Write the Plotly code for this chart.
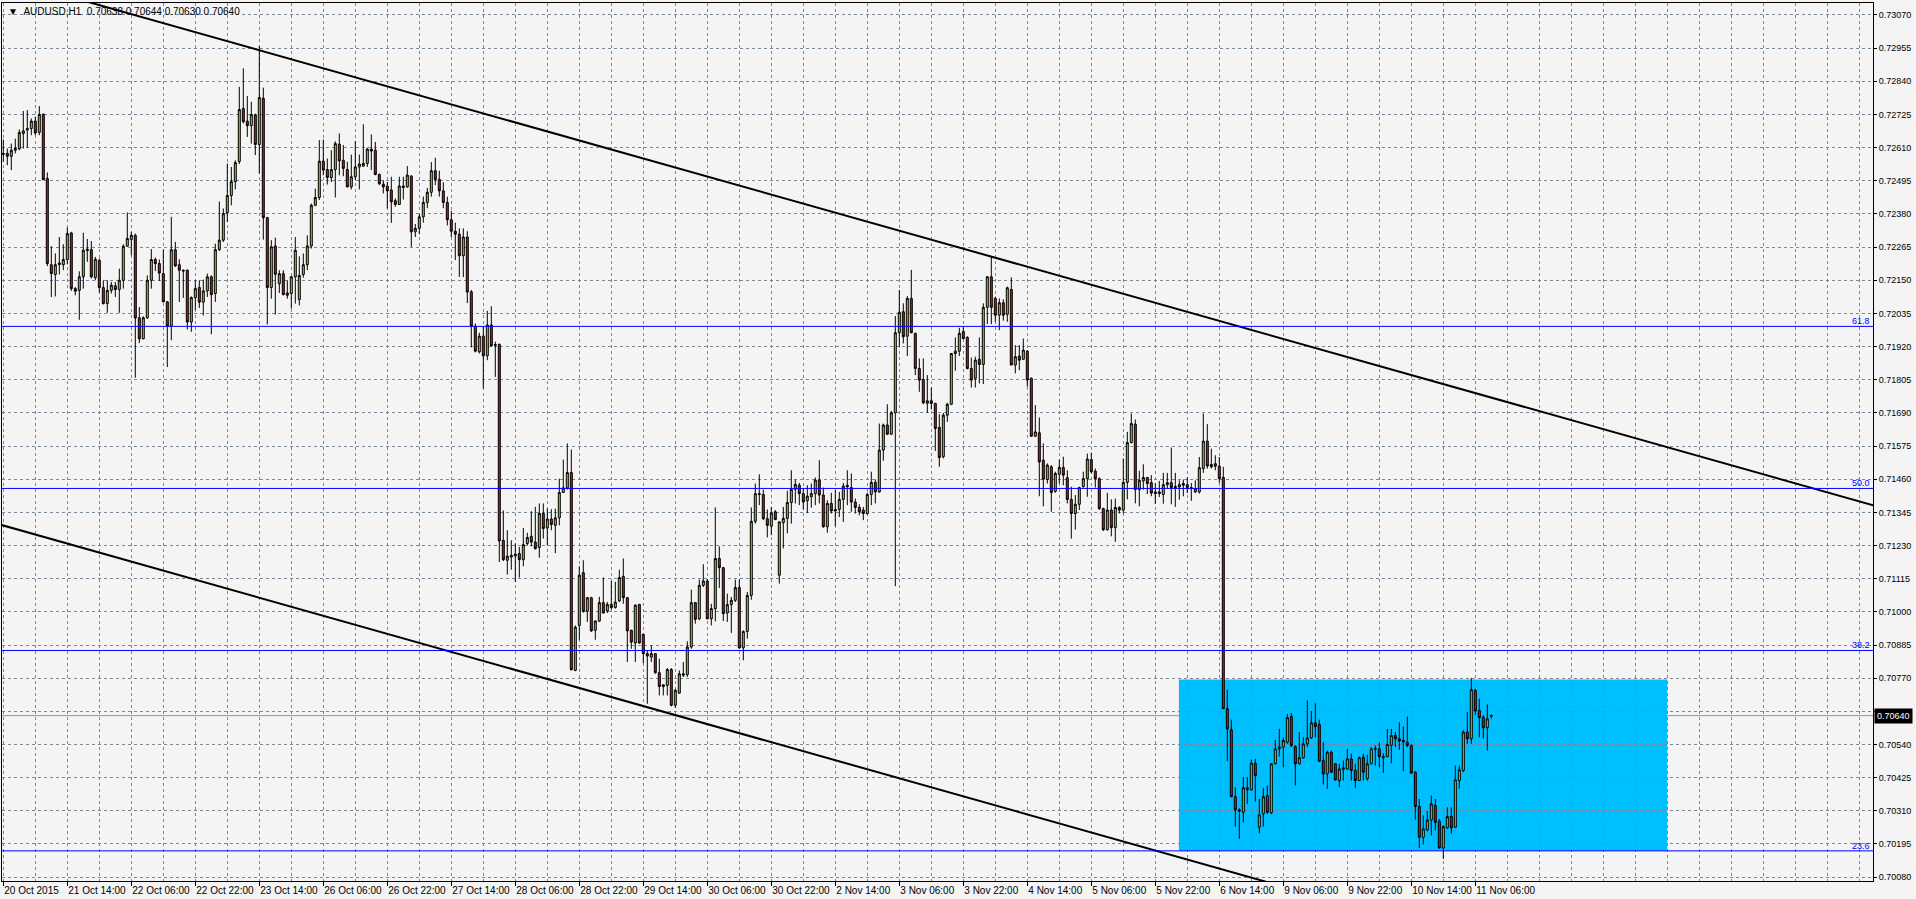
import plotly.graph_objects as go

# ---------------- data ----------------
tick_dates = ["20 Oct 2015", "21 Oct 14:00", "22 Oct 06:00", "22 Oct 22:00", "23 Oct 14:00",
              "26 Oct 06:00", "26 Oct 22:00", "27 Oct 14:00", "28 Oct 06:00", "28 Oct 22:00",
              "29 Oct 14:00", "30 Oct 06:00", "30 Oct 22:00", "2 Nov 14:00", "3 Nov 06:00",
              "3 Nov 22:00", "4 Nov 14:00", "5 Nov 06:00", "5 Nov 22:00", "6 Nov 14:00",
              "9 Nov 06:00", "9 Nov 22:00", "10 Nov 14:00", "11 Nov 06:00"]
tick_bars = [0, 16, 32, 48, 64, 80, 96, 112, 128, 144, 160, 176, 192, 208, 224, 240,
             256, 272, 288, 304, 320, 336, 352, 368]

price_ticks = [0.70080, 0.70195, 0.70310, 0.70425, 0.70540, 0.70655, 0.70770, 0.70885, 0.71000,
               0.71115, 0.71230, 0.71345, 0.71460, 0.71575, 0.71690, 0.71805, 0.71920, 0.72035,
               0.72150, 0.72265, 0.72380, 0.72495, 0.72610, 0.72725, 0.72840, 0.72955, 0.73070]
hidden_tick = 0.70655   # covered by the bid-price box in the original

opens = [
 .72590,.72590,.72580,.72601,.72606,.72659,.72671,.72676,.72702,.72663,
 .72726,.72503,.72204,.72170,.72204,.72204,.72222,.72314,.72121,.72115,
 .72162,.72253,.72256,.72159,.72219,.72125,.72069,.72115,.72131,.72118,
 .72150,.72268,.72291,.72306,.72020,.71947,.72020,.72150,.72222,.72208,
 .72173,.72075,.71991,.72256,.72204,.72185,.72185,.72005,.72090,.72125,
 .72074,.72113,.72162,.72104,.72256,.72289,.72384,.72444,.72492,.72562,
 .72746,.72702,.72686,.72723,.72621,.72781,.72367,.72125,.72269,.72138,
 .72173,.72106,.72104,.72162,.72083,.72170,.72204,.72269,.72410,.72437,
 .72563,.72534,.72506,.72534,.72622,.72566,.72534,.72474,.72509,.72543,
 .72546,.72555,.72605,.72601,.72517,.72483,.72476,.72463,.72426,.72413,
 .72477,.72474,.72511,.72318,.72330,.72370,.72420,.72455,.72530,.72500,
 .72460,.72420,.72360,.72320,.72310,.72235,.72300,.72110,.71991,.71902,
 .71956,.71888,.71995,.71927,.71927,.71248,.71179,.71190,.71194,.71202,
 .71181,.71237,.71262,.71242,.71223,.71341,.71291,.71322,.71300,.71326,
 .71414,.71430,.71483,.70797,.70953,.71136,.71002,.71049,.70936,.70968,
 .71032,.71003,.71026,.71015,.71038,.71123,.71049,.70936,.70892,.71026,
 .70922,.70855,.70843,.70855,.70789,.70747,.70745,.70800,.70676,.70718,
 .70780,.70782,.70878,.71032,.70976,.71092,.71107,.70976,.71011,.71185,
 .71153,.70996,.71025,.71040,.71084,.70875,.70932,.71057,.71314,.71410,
 .71407,.71323,.71297,.71347,.71127,.71309,.71324,.71379,.71425,.71439,
 .71410,.71385,.71399,.71410,.71457,.71405,.71295,.71376,.71355,.71355,
 .71390,.71439,.71431,.71381,.71362,.71353,.71341,.71407,.71449,.71416,
 .71561,.71648,.71616,.71690,.71968,.72041,.71956,.72087,.71966,.71844,
 .71806,.71723,.71732,.71723,.71640,.71538,.71682,.71720,.71896,.71904,
 .71972,.71952,.71844,.71810,.71876,.71858,.72056,.72162,.72087,.72029,
 .72072,.72032,.72118,.71856,.71887,.71876,.71904,.71810,.71609,.71621,
 .71526,.71459,.71503,.71418,.71477,.71501,.71465,.71390,.71341,.71373,
 .71434,.71462,.71528,.71488,.71462,.71358,.71285,.71353,.71292,.71362,
 .71353,.71449,.71587,.71651,.71424,.71454,.71466,.71448,.71416,.71410,
 .71407,.71441,.71448,.71435,.71433,.71445,.71441,.71431,.71416,.71416,
 .71497,.71592,.71511,.71514,.71505,.71466,.70664,.70591,.70359,.70313,
 .70305,.70390,.70383,.70475,.70253,.70299,.70363,.70303,.70473,.70525,
 .70531,.70548,.70637,.70533,.70473,.70494,.70542,.70563,.70615,.70609,
 .70484,.70438,.70513,.70473,.70415,.70454,.70455,.70490,.70450,.70415,
 .70496,.70421,.70473,.70526,.70525,.70498,.70498,.70537,.70571,.70560,
 .70554,.70548,.70537,.70444,.70325,.70218,.70244,.70278,.70328,.70274,
 .70181,.70251,.70290,.70253,.70415,.70450,.70583,.70560,.70728,.70658,
 .70635,.70598,.70638]

highs = [
 .72638,.72607,.72624,.72641,.72673,.72737,.72740,.72711,.72717,.72754,
 .72728,.72524,.72268,.72243,.72300,.72275,.72333,.72318,.72127,.72181,
 .72315,.72293,.72286,.72231,.72225,.72150,.72150,.72144,.72144,.72190,
 .72275,.72385,.72318,.72312,.72057,.72025,.72167,.72258,.72229,.72222,
 .72256,.72078,.72370,.72283,.72223,.72187,.72187,.72094,.72150,.72150,
 .72152,.72173,.72167,.72277,.72423,.72399,.72555,.72543,.72566,.72821,
 .72885,.72789,.72769,.72728,.72962,.72818,.72370,.72289,.72298,.72185,
 .72185,.72150,.72165,.72300,.72233,.72243,.72306,.72416,.72468,.72636,
 .72638,.72572,.72601,.72632,.72659,.72619,.72561,.72586,.72632,.72586,
 .72691,.72610,.72656,.72630,.72520,.72497,.72491,.72509,.72434,.72509,
 .72509,.72546,.72515,.72345,.72380,.72440,.72470,.72560,.72575,.72530,
 .72490,.72440,.72390,.72350,.72330,.72330,.72320,.72116,.72000,.71968,
 .71991,.72044,.72060,.71937,.71931,.71352,.71283,.71248,.71237,.71225,
 .71291,.71274,.71349,.71364,.71376,.71376,.71358,.71356,.71358,.71462,
 .71528,.71584,.71563,.70953,.71158,.71179,.71052,.71052,.70971,.71052,
 .71119,.71034,.71107,.71104,.71146,.71185,.71052,.70938,.71026,.71026,
 .70924,.70866,.70884,.70855,.70838,.70747,.70805,.70805,.70733,.70797,
 .70826,.70898,.71077,.71034,.71112,.71165,.71114,.71028,.71362,.71227,
 .71156,.71063,.71052,.71112,.71112,.70936,.71069,.71362,.71445,.71477,
 .71424,.71355,.71364,.71353,.71314,.71364,.71420,.71491,.71459,.71447,
 .71428,.71439,.71445,.71466,.71526,.71431,.71387,.71413,.71422,.71416,
 .71447,.71491,.71480,.71393,.71373,.71364,.71413,.71486,.71459,.71653,
 .71653,.71720,.71697,.72026,.72116,.72070,.72095,.72186,.71968,.71879,
 .71879,.71821,.71778,.71725,.71686,.71690,.71725,.71896,.71952,.71985,
 .71987,.71956,.71882,.71885,.71952,.72070,.72165,.72234,.72093,.72087,
 .72084,.72128,.72160,.71925,.71925,.71948,.71908,.71813,.71717,.71674,
 .71584,.71515,.71509,.71486,.71528,.71538,.71491,.71434,.71405,.71434,
 .71486,.71549,.71552,.71497,.71466,.71361,.71413,.71390,.71393,.71366,
 .71532,.71624,.71688,.71667,.71489,.71512,.71466,.71474,.71447,.71454,
 .71482,.71482,.71570,.71482,.71456,.71459,.71466,.71447,.71456,.71537,
 .71688,.71651,.71566,.71543,.71537,.71503,.70730,.70626,.70392,.70320,
 .70427,.70427,.70487,.70490,.70351,.70390,.70398,.70475,.70556,.70594,
 .70563,.70646,.70649,.70537,.70583,.70565,.70693,.70656,.70683,.70626,
 .70548,.70519,.70519,.70475,.70473,.70484,.70525,.70508,.70473,.70498,
 .70508,.70505,.70531,.70537,.70548,.70510,.70594,.70594,.70583,.70617,
 .70602,.70637,.70540,.70447,.70351,.70294,.70309,.70363,.70351,.70282,
 .70259,.70322,.70322,.70467,.70467,.70589,.70652,.70771,.70733,.70699,
 .70641,.70679,.70644]

lows = [
 .72561,.72549,.72532,.72590,.72601,.72607,.72610,.72653,.72653,.72653,
 .72497,.72199,.72092,.72094,.72170,.72185,.72205,.72113,.72098,.72013,
 .72121,.72214,.72156,.72150,.72107,.72066,.72037,.72104,.72092,.72037,
 .72121,.72266,.72237,.71812,.71932,.71945,.72016,.72121,.72182,.72148,
 .72075,.71849,.71942,.72196,.72075,.72089,.71979,.71971,.72046,.72054,
 .72028,.72092,.71963,.72075,.72252,.72283,.72352,.72410,.72465,.72553,
 .72694,.72647,.72624,.72584,.72520,.72291,.71997,.72086,.72031,.72106,
 .72098,.72086,.72052,.72069,.72063,.72159,.72185,.72260,.72407,.72428,
 .72514,.72482,.72491,.72437,.72514,.72511,.72472,.72465,.72497,.72465,
 .72543,.72543,.72532,.72514,.72480,.72451,.72399,.72349,.72405,.72411,
 .72430,.72471,.72266,.72300,.72310,.72350,.72400,.72440,.72480,.72440,
 .72400,.72340,.72300,.72220,.72162,.72161,.72071,.71917,.71900,.71896,
 .71775,.71873,.71919,.71815,.71173,.71176,.71129,.71146,.71104,.71119,
 .71158,.71230,.71227,.71216,.71188,.71254,.71231,.71283,.71204,.71300,
 .71413,.71424,.70797,.70794,.70903,.70997,.70965,.70930,.70903,.70965,
 .70994,.70996,.71008,.71011,.71034,.71028,.70826,.70872,.70826,.70890,
 .70822,.70681,.70826,.70785,.70710,.70710,.70710,.70672,.70667,.70716,
 .70774,.70774,.70872,.70959,.70971,.71086,.70974,.70953,.70967,.71083,
 .70968,.70965,.70927,.71034,.70872,.70832,.70907,.71042,.71306,.71370,
 .71318,.71258,.71266,.71318,.71098,.71220,.71272,.71306,.71376,.71370,
 .71355,.71343,.71361,.71370,.71376,.71292,.71274,.71341,.71297,.71329,
 .71312,.71370,.71347,.71341,.71335,.71318,.71337,.71370,.71376,.71413,
 .71524,.71613,.71613,.71089,.71920,.71931,.71887,.71966,.71821,.71763,
 .71720,.71690,.71702,.71558,.71503,.71532,.71659,.71717,.71836,.71887,
 .71945,.71841,.71778,.71778,.71792,.71790,.71998,.71998,.72006,.71977,
 .72010,.72006,.71856,.71827,.71838,.71873,.71781,.71607,.71607,.71401,
 .71366,.71445,.71347,.71413,.71445,.71439,.71376,.71254,.71285,.71353,
 .71431,.71399,.71480,.71431,.71353,.71280,.71281,.71262,.71243,.71341,
 .71341,.71390,.71584,.71376,.71366,.71424,.71408,.71401,.71375,.71398,
 .71375,.71427,.71373,.71364,.71389,.71401,.71412,.71385,.71412,.71410,
 .71482,.71497,.71497,.71491,.71447,.70664,.70482,.70357,.70255,.70213,
 .70270,.70334,.70380,.70340,.70232,.70255,.70299,.70299,.70471,.70498,
 .70461,.70542,.70531,.70398,.70471,.70490,.70531,.70560,.70565,.70479,
 .70401,.70386,.70441,.70415,.70392,.70415,.70452,.70415,.70390,.70413,
 .70415,.70415,.70471,.70467,.70461,.70441,.70496,.70475,.70531,.70521,
 .70447,.70531,.70438,.70279,.70181,.70193,.70239,.70224,.70241,.70178,
 .70143,.70247,.70230,.70251,.70386,.70444,.70542,.70542,.70641,.70565,
 .70560,.70519,.70630]

closes = [
 .72587,.72580,.72601,.72607,.72663,.72668,.72676,.72702,.72661,.72725,
 .72499,.72208,.72173,.72204,.72210,.72222,.72312,.72121,.72112,.72162,
 .72254,.72258,.72162,.72223,.72125,.72069,.72115,.72133,.72118,.72150,
 .72268,.72295,.72306,.72019,.71947,.72020,.72150,.72222,.72208,.72175,
 .72075,.71991,.72256,.72200,.72185,.72182,.72005,.72090,.72121,.72074,
 .72113,.72162,.72100,.72256,.72289,.72381,.72444,.72492,.72558,.72742,
 .72700,.72686,.72725,.72621,.72784,.72367,.72125,.72266,.72171,.72173,
 .72100,.72098,.72162,.72254,.72167,.72204,.72269,.72410,.72437,.72563,
 .72532,.72506,.72534,.72624,.72564,.72538,.72474,.72509,.72543,.72553,
 .72555,.72605,.72598,.72517,.72485,.72474,.72460,.72422,.72413,.72477,
 .72472,.72515,.72318,.72330,.72370,.72420,.72455,.72530,.72500,.72460,
 .72420,.72360,.72320,.72310,.72235,.72300,.72109,.71991,.71904,.71956,
 .71888,.71995,.71923,.71925,.71246,.71181,.71193,.71196,.71200,.71181,
 .71233,.71258,.71242,.71219,.71341,.71289,.71322,.71303,.71326,.71414,
 .71430,.71483,.70799,.70947,.71127,.71002,.71049,.70934,.70968,.71032,
 .70996,.71026,.71015,.71034,.71119,.71049,.70934,.70895,.71023,.70892,
 .70855,.70847,.70855,.70789,.70741,.70741,.70800,.70676,.70728,.70785,
 .70785,.70878,.71032,.70974,.71092,.71107,.70976,.71011,.71185,.71153,
 .70994,.71025,.71040,.71084,.70875,.70932,.71057,.71314,.71410,.71407,
 .71323,.71300,.71343,.71320,.71312,.71324,.71379,.71425,.71442,.71410,
 .71381,.71401,.71410,.71457,.71405,.71295,.71376,.71350,.71350,.71390,
 .71436,.71434,.71381,.71362,.71347,.71341,.71407,.71449,.71416,.71561,
 .71648,.71616,.71690,.71968,.72039,.71954,.72087,.71968,.71844,.71804,
 .71725,.71732,.71723,.71636,.71535,.71682,.71720,.71896,.71904,.71966,
 .71948,.71844,.71804,.71873,.71858,.72056,.72162,.72056,.72029,.72072,
 .72029,.72124,.71856,.71885,.71873,.71908,.71804,.71609,.71624,.71520,
 .71460,.71509,.71414,.71480,.71501,.71474,.71390,.71341,.71373,.71431,
 .71462,.71530,.71486,.71462,.71358,.71285,.71353,.71292,.71362,.71353,
 .71449,.71587,.71653,.71424,.71456,.71466,.71445,.71412,.71410,.71416,
 .71441,.71448,.71431,.71431,.71441,.71439,.71431,.71427,.71427,.71500,
 .71592,.71506,.71503,.71505,.71462,.70664,.70594,.70359,.70313,.70309,
 .70390,.70383,.70475,.70432,.70296,.70359,.70305,.70473,.70525,.70531,
 .70554,.70633,.70537,.70473,.70494,.70542,.70563,.70615,.70602,.70482,
 .70438,.70513,.70444,.70417,.70455,.70459,.70490,.70450,.70415,.70494,
 .70444,.70473,.70525,.70524,.70498,.70494,.70540,.70571,.70560,.70552,
 .70549,.70537,.70441,.70325,.70218,.70247,.70278,.70334,.70270,.70181,
 .70255,.70290,.70251,.70417,.70452,.70583,.70560,.70730,.70656,.70633,
 .70598,.70629,.70640]

fib_levels = [0.70171, 0.70866, 0.71428, 0.71990]
fib_labels = ["23.6", "38.2", "50.0", "61.8"]

# trend lines: two anchor points each (bar index, price)
upper_trend_x = [74.175, 374.175]
upper_trend_y = [0.729080, 0.717346]
lower_trend_x = [94.175, 281.675]
lower_trend_y = [0.709309, 0.701970]

box_x = [293.9, 416.0]
box_y = [0.70171, 0.70765]

bid_price = 0.70640
header_text = "\u25BC\u00a0\u00a0AUDUSD,H1\u00a0 0.70638 0.70644 0.70630 0.70640"

assert len(opens) == len(highs) == len(lows) == len(closes)

# ---------------- figure ----------------
X_RANGE = [-0.325, 467.425]
Y_RANGE = [0.700665, 0.731116]
FONT = "Liberation Sans"
GRID = "#778899"
BG = "#F4F4F4"

bars = list(range(len(opens)))

fig = go.Figure()

fig.add_trace(go.Candlestick(
    x=bars, open=opens, high=highs, low=lows, close=closes,
    increasing=dict(line=dict(color="black", width=1), fillcolor="#9ACD32"),
    decreasing=dict(line=dict(color="black", width=1), fillcolor="#E01010"),
    whiskerwidth=0, showlegend=False, hoverinfo="skip"))


def extend(xs, ys):
    slope = (ys[1] - ys[0]) / (xs[1] - xs[0])
    xa, xb = X_RANGE[0] - 5, X_RANGE[1] + 5
    return [xa, xb], [ys[0] + slope * (xa - xs[0]), ys[0] + slope * (xb - xs[0])]


for tx, ty in [(upper_trend_x, upper_trend_y), (lower_trend_x, lower_trend_y)]:
    ex, ey = extend(tx, ty)
    fig.add_trace(go.Scatter(x=ex, y=ey, mode="lines", line=dict(color="black", width=2),
                             showlegend=False, hoverinfo="skip"))

shapes = [dict(type="rect", xref="x", yref="y", x0=box_x[0], x1=box_x[1], y0=box_y[0], y1=box_y[1],
               fillcolor="#00BFFF", line=dict(width=0), layer="below")]
for lv in fib_levels:
    shapes.append(dict(type="line", xref="paper", yref="y", x0=0, x1=1, y0=lv, y1=lv,
                       line=dict(color="#0000FF", width=1), layer="above"))
shapes.append(dict(type="line", xref="paper", yref="y", x0=0, x1=1, y0=bid_price, y1=bid_price,
                   line=dict(color="#8C96A0", width=1), layer="below"))

annotations = []
for lv, lb in zip(fib_levels, fib_labels):
    annotations.append(dict(xref="paper", yref="y", x=1, y=lv, text=lb, showarrow=False,
                            xanchor="right", yanchor="bottom", xshift=-1, yshift=-2,
                            font=dict(family=FONT, size=9, color="#0000FF")))
annotations.append(dict(xref="paper", yref="y", x=1, y=bid_price, text="0.70640", showarrow=False,
                        xanchor="left", yanchor="middle", xshift=1, bgcolor="black",
                        borderpad=2, font=dict(family=FONT, size=9, color="white")))
annotations.append(dict(xref="paper", yref="paper", x=0, y=1, text=header_text, showarrow=False,
                        xanchor="left", yanchor="top", xshift=4, yshift=-1,
                        font=dict(family=FONT, size=10, color="black")))

y_ticktext = ["" if abs(v - hidden_tick) < 1e-9 else "%.5f" % v for v in price_ticks]

fig.update_layout(
    width=1916, height=899, autosize=False,
    margin=dict(l=2, r=43, t=3, b=18, pad=0),
    paper_bgcolor=BG, plot_bgcolor=BG,
    boxgap=0.5, boxgroupgap=0,
    shapes=shapes, annotations=annotations,
    xaxis=dict(range=X_RANGE, tickmode="array", tickvals=tick_bars, ticktext=tick_dates,
               ticks="outside", ticklen=4, tickcolor="black", ticklabelposition="outside right",
               tickangle=0,
               showline=True, linecolor="black", linewidth=1, mirror=True,
               showgrid=True, gridcolor=GRID, griddash="3px,3px", gridwidth=1, zeroline=False,
               tickfont=dict(family=FONT, size=10, color="black"),
               minor=dict(tickmode="linear", tick0=0, dtick=8, showgrid=True, gridcolor=GRID,
                          griddash="3px,3px", gridwidth=1, ticks=""),
               rangeslider=dict(visible=False), fixedrange=True),
    yaxis=dict(range=Y_RANGE, side="right", tickmode="array", tickvals=price_ticks,
               ticktext=y_ticktext,
               ticks="outside", ticklen=3, tickcolor="black",
               showline=True, linecolor="black", linewidth=1, mirror=True,
               showgrid=True, gridcolor=GRID, griddash="3px,3px", gridwidth=1, zeroline=False,
               tickfont=dict(family=FONT, size=9, color="black"), fixedrange=True),
    showlegend=False,
)

fig.write_html("out.html", config={"displayModeBar": False, "staticPlot": True},
               post_script="document.body.style.margin='0';document.body.style.overflow='hidden';")
